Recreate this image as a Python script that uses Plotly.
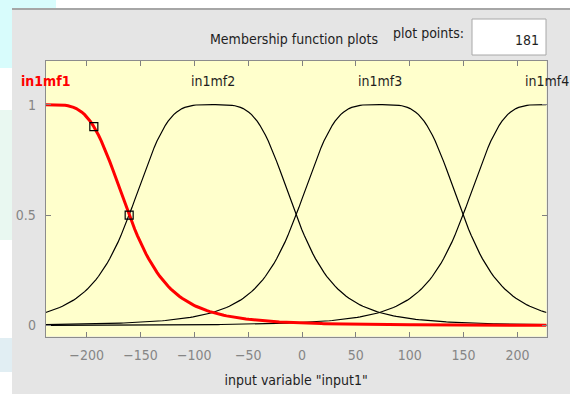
import numpy as np
import plotly.graph_objects as go

# Input variable range and generalized-bell membership functions
x_range = [-238, 227]
plot_points = 181
mf_names = ["in1mf1", "in1mf2", "in1mf3", "in1mf4"]
mf_centers = [-238, -83, 72, 227]
mf_width = 77.5
mf_slope = 2
selected_mf = 0
# handles shown on the selected curve
handle_x = [-193.3, -160.5]

x_ticks = [-200, -150, -100, -50, 0, 50, 100, 150, 200]
y_ticks = [0, 0.5, 1]
y_ticktext = ["0", "0.5", "1"]

W, H = 570, 394
FONT = "Liberation Sans Narrow, DejaVu Sans Condensed, Liberation Sans, Arial"


def gbell(x, a, b, c):
    return 1.0 / (1.0 + np.abs((x - c) / a) ** (2 * b))


def px(v):
    return v / W


def py(v):
    return 1 - v / H


xs = np.linspace(x_range[0], x_range[1], plot_points)

fig = go.Figure()

# unselected functions in black, selected one in red on top
order = [i for i in range(len(mf_names)) if i != selected_mf] + [selected_mf]
for i in order:
    sel = i == selected_mf
    fig.add_trace(go.Scatter(
        x=xs, y=gbell(xs, mf_width, mf_slope, mf_centers[i]),
        mode="lines", name=mf_names[i],
        line=dict(color="#ff0000" if sel else "#000000", width=3 if sel else 1.2),
        hoverinfo="skip",
    ))

hx = np.array(handle_x)
fig.add_trace(go.Scatter(
    x=hx, y=gbell(hx, mf_width, mf_slope, mf_centers[selected_mf]),
    mode="markers",
    marker=dict(symbol="square-open", size=8, color="#000000", line=dict(width=1.2)),
    hoverinfo="skip",
))

# function labels above the curves
annotations = []
for i, name in enumerate(mf_names):
    sel = i == selected_mf
    annotations.append(dict(
        x=mf_centers[i], y=1.105, xref="x", yref="y",
        text=f"<b>{name}</b>" if sel else name, showarrow=False,
        font=dict(family=FONT, size=14, color="#ff0000" if sel else "#1e1e1e"),
        xanchor="center", yanchor="middle",
    ))

# panel texts
annotations += [
    dict(x=px(294), y=py(39), xref="paper", yref="paper", text="Membership function plots",
         showarrow=False, font=dict(family=FONT, size=14, color="#1e1e1e"),
         xanchor="center", yanchor="middle"),
    dict(x=px(428), y=py(33), xref="paper", yref="paper", text="plot points:",
         showarrow=False, font=dict(family=FONT, size=14, color="#1e1e1e"),
         xanchor="center", yanchor="middle"),
    dict(x=px(541), y=py(40), xref="paper", yref="paper", text=str(plot_points),
         showarrow=False, font=dict(family=FONT, size=14, color="#1e1e1e"),
         xanchor="right", yanchor="middle"),
]

shapes = [
    # left strip and top strip background
    dict(type="rect", xref="paper", yref="paper", x0=0, x1=px(12), y0=0, y1=1,
         fillcolor="#ffffff", line=dict(width=0), layer="below"),
    dict(type="rect", xref="paper", yref="paper", x0=0, x1=1, y0=py(8), y1=1,
         fillcolor="#ffffff", line=dict(width=0), layer="below"),
    dict(type="rect", xref="paper", yref="paper", x0=0, x1=px(12), y0=py(68), y1=1,
         fillcolor="#d8fcfc", line=dict(width=0), layer="below"),
    dict(type="rect", xref="paper", yref="paper", x0=0, x1=px(56), y0=py(8), y1=1,
         fillcolor="#d8fcfc", line=dict(width=0), layer="below"),
    dict(type="rect", xref="paper", yref="paper", x0=0, x1=px(12), y0=py(240), y1=py(110),
         fillcolor="#e9f8f1", line=dict(width=0), layer="below"),
    dict(type="rect", xref="paper", yref="paper", x0=0, x1=px(12), y0=py(372), y1=py(338),
         fillcolor="#e1eef3", line=dict(width=0), layer="below"),
    # panel top border
    dict(type="line", xref="paper", yref="paper", x0=px(12), x1=1, y0=py(9), y1=py(9),
         line=dict(color="#a6a6a6", width=2)),
    # plot points entry box
    dict(type="rect", xref="paper", yref="paper", x0=px(472), x1=px(546), y0=py(55), y1=py(19),
         fillcolor="#ffffff", line=dict(color="#a8a8a8", width=1)),
]

axis_font = dict(family=FONT, size=14, color="#858585")

fig.update_layout(
    width=W, height=H,
    margin=dict(l=0, r=0, t=0, b=0),
    paper_bgcolor="#e5e5e5",
    plot_bgcolor="#ffffcc",
    showlegend=False,
    annotations=annotations,
    shapes=shapes,
    xaxis=dict(
        domain=[px(45.7), px(546.5)], range=x_range,
        tickvals=x_ticks, ticks="inside", ticklen=5, tickcolor="#808080",
        showline=True, linecolor="#8c8c8c", linewidth=1, mirror="ticks",
        showgrid=False, zeroline=False, tickfont=axis_font, ticklabelstandoff=6,
        title=dict(text='input variable "input1"',
                   font=dict(family=FONT, size=14, color="#1e1e1e"), standoff=12),
    ),
    yaxis=dict(
        domain=[1 - 336.5 / H, 1 - 60.5 / H], range=[-0.05, 1.2],
        tickvals=y_ticks, ticktext=y_ticktext, ticks="inside", ticklen=5,
        tickcolor="#808080", showline=True, linecolor="#8c8c8c", linewidth=1,
        mirror="ticks", showgrid=False, zeroline=False, tickfont=axis_font,
        ticklabelstandoff=6,
    ),
)

fig.write_html("out.html")
